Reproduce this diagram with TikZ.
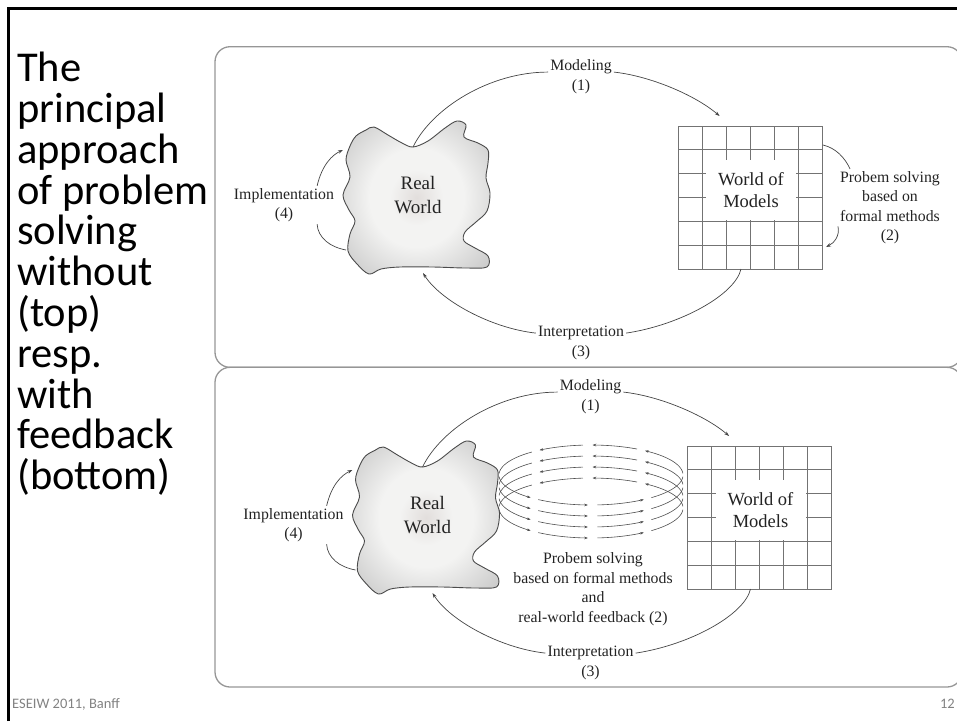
\documentclass[tikz,border=0pt]{standalone}
\usepackage{fontspec}
\setmainfont{Liberation Serif}
\newfontfamily\slidefont{Carlito}
\usetikzlibrary{arrows.meta}

\definecolor{ink}{RGB}{35,35,35}
\definecolor{panelgray}{RGB}{150,150,150}
\definecolor{gridgray}{RGB}{115,115,115}
\definecolor{blobline}{RGB}{75,75,75}
\definecolor{footgray}{RGB}{130,130,130}
\definecolor{blobcore}{RGB}{226,222,220}
\definecolor{blobring}{RGB}{243,243,242}
\definecolor{blobedge}{RGB}{185,185,185}

\pgfdeclareradialshading{blobshade}{\pgfpoint{0bp}{0bp}}{%
  color(0bp)=(blobcore); color(9bp)=(blobring); color(16bp)=(blobring);
  color(40bp)=(blobedge); color(70bp)=(blobedge)}

\tikzset{
  lbl/.style={font=\fontsize{15.8pt}{19.5pt}\selectfont, text=ink, align=center, inner sep=2pt},
  bigtxt/.style={font=\fontsize{19pt}{23.5pt}\selectfont, text=ink, align=center, inner sep=0pt},
  arc/.style={draw=ink!85, line width=0.7pt},
  arcarrow/.style={arc, -{Stealth[length=5pt,width=3.4pt]}},
  fb/.style={draw=ink!80, line width=0.6pt},
  fbarrow/.style={fb, -{Stealth[length=3.6pt,width=2.6pt]}},
  panel/.style={draw=panelgray, line width=1.3pt, rounded corners=15pt},
  gridline/.style={draw=gridgray, line width=0.8pt},
  gridframe/.style={draw=gridgray, line width=0.8pt, inner sep=0pt,
    minimum width=144pt, minimum height=143pt},
  wombox/.style={fill=white, minimum width=90pt, minimum height=60pt, inner sep=0pt,
    font=\fontsize{18.5pt}{22pt}\selectfont, text=ink, align=center},
}

% The modelling cycle shared by both panels: real world, world of models,
% modelling, interpretation and implementation.
\newcommand\drawcycle{%
  \shadedraw[shading=blobshade, draw=blobline, line width=0.9pt]
    plot[smooth cycle, tension=0.55] coordinates {
      (374,127) (388,135) (402,143) (413,147) (428,141) (445,128) (457,121)
      (466,125) (464,137) (478,143) (488,150) (488,163) (486,178) (490,193)
      (487,211) (476,222) (465,232) (464,241) (475,248) (488,256) (487,267)
      (466,268) (433,267) (400,267) (381,269) (369,274) (357,264) (348,251)
      (350,234) (355,221) (349,210) (343,195) (350,177) (346,160) (350,146)
      (356,136) (366,130)};
  \coordinate (notch) at (413,147);
  \node[bigtxt] (real) at (418,195) {Real\\World};
  % world of models grid
  \node[gridframe] (wom) at (750,197.5) {};
  \foreach \i in {1,...,5} \draw[gridline] ({678+24*\i},126) -- ({678+24*\i},269);
  \foreach \j in {1,...,5} \draw[gridline] (678,{126+23.83*\j}) -- (822,{126+23.83*\j});
  \node[wombox] (womtxt) at (751,190) {World of\\Models};
  % labels
  \node[lbl] (mod) at (581,76.7) {Modeling\\(1)};
  \node[lbl] (int) at (581,342.7) {Interpretation\\(3)};
  \node[lbl] (imp) at (284,205) {Implementation\\(4)};
  % free ends of the arcs
  \coordinate (mend) at (719.6,116);
  \coordinate (istart) at (741,269);
  \coordinate (iend) at (423,273);
  \coordinate (pend) at (343,150);
  \coordinate (pfoot) at (346,250);
  % arcs
  \draw[arc] (notch) .. controls (432,108) and (490,72) .. (mod.172);
  \draw[arcarrow] (mod.8) .. controls (650,76) and (695,95) .. (mend);
  \draw[arc] (istart) .. controls (735,295) and (680,325) .. (int.12);
  \draw[arcarrow] (int.168) .. controls (490,328) and (440,300) .. (iend);
  \draw[arcarrow] (imp.30) .. controls (322,165) and (332,155) .. (pend);
  \draw[arc] (imp.-30) .. controls (318,238) and (330,247) .. (pfoot);
}

\begin{document}
\begin{tikzpicture}[x=1pt, y=-1pt]
  \useasboundingbox (0,0) rectangle (957,721);
  \clip (0,0) rectangle (957,721);

  % slide frame
  \draw[line width=2.6pt] (8.3,721) -- (8.3,8.3) -- (957,8.3);

  % slide title column
  \node[anchor=base west, inner sep=0pt, text=black,
        font=\slidefont\fontsize{42.5pt}{40.8pt}\selectfont] (side) at (17,81.7)
    {\vtop{\hbox{The}\hbox{principal}\hbox{approach}\hbox{of problem}\hbox{solving}%
      \hbox{without}\hbox{(top)}\hbox{resp.}\hbox{with}\hbox{feedback}\hbox{(bottom)}}};

  % footer
  \node[anchor=base west, inner sep=0pt, text=footgray,
        font=\slidefont\fontsize{14.5pt}{17pt}\selectfont] (foot) at (12,708) {ESEIW 2011, Banff};
  \node[anchor=base east, inner sep=0pt, text=footgray,
        font=\slidefont\fontsize{14.5pt}{17pt}\selectfont] (page) at (955,708) {12};

  % panels
  \draw[panel] (215,46.7) rectangle (962,367.3);
  \draw[panel] (215,367.3) rectangle (962,687);

  % top panel: solving with formal methods only
  \begin{scope}[name prefix=top-]
    \drawcycle
    \node[lbl] (ps) at (890,207.5) {Probem solving\\based on\\formal methods\\(2)};
    \coordinate (psa) at (823,145);
    \coordinate (psb) at (826,247);
    \draw[arc] (psa) .. controls (836,148) and (845,158) .. (ps.136);
    \draw[arcarrow] (ps.200) .. controls (840,236) and (834,243) .. (psb);
  \end{scope}

  % bottom panel: solving with real-world feedback
  \begin{scope}[name prefix=bot-, shift={(9.5,320)}]
    \drawcycle
  \end{scope}

  % feedback loops between the real world and the world of models
  \foreach \cy in {475,486,497,508} {
    \foreach \a/\b in {3/54, 60/89, 95/124, 183/229, 235/268, 274/305}
      \draw[fbarrow] plot[domain=\a:\b, samples=24, smooth] ({591+92*cos(\x)}, {\cy-30*sin(\x)});
    \foreach \a/\b in {130/177, 311/357}
      \draw[fb] plot[domain=\a:\b, samples=24, smooth] ({591+92*cos(\x)}, {\cy-30*sin(\x)});
  }
  \node[lbl] (fbtxt) at (593,589) {Probem solving\\based on formal methods\\and\\real-world feedback (2)};
\end{tikzpicture}
\end{document}
